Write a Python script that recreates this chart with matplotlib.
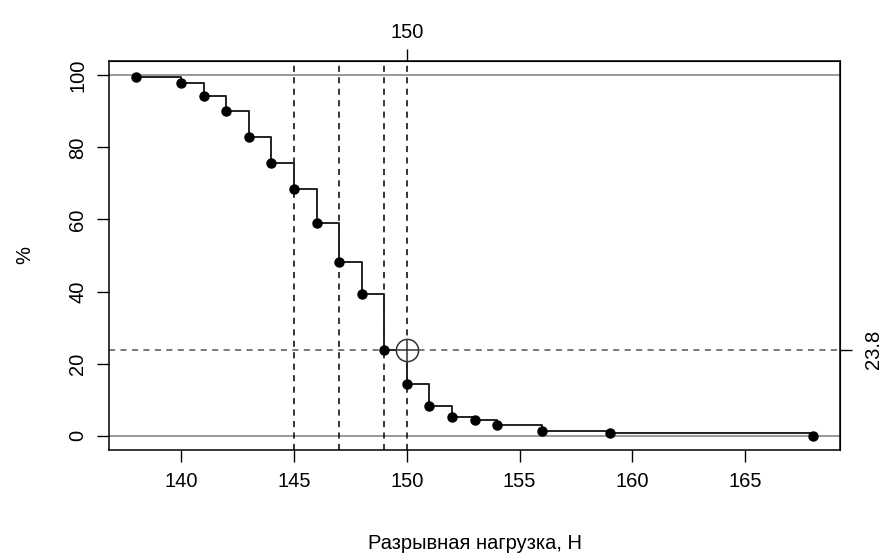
import numpy as np
import matplotlib
matplotlib.use("Agg")
import matplotlib.pyplot as plt

plt.rcParams['font.family'] = ['Liberation Sans', 'DejaVu Sans']

# нагрузка, Н и доля образцов, %
load = [138, 140, 141, 142, 143, 144, 145, 146, 147, 148, 149,
        150, 151, 152, 153, 154, 156, 159, 168]
percent = [99.6, 97.8, 94.2, 90.0, 82.8, 75.6, 68.5, 58.9, 48.2, 39.3, 23.8,
           14.4, 8.3, 5.3, 4.2, 3.0, 1.3, 0.7, 0.0]

vlines = [145, 147, 149, 150]
hlines = [0, 100]
x_mark = 150
y_mark = 23.8
x_ticks = [140, 145, 150, 155, 160, 165]
y_ticks = [0, 20, 40, 60, 80, 100]

fs = 14.5

fig = plt.figure(figsize=(8.92, 5.53), dpi=100)
ax = fig.add_axes([109/892, 103/553, (840-109)/892, (450-61)/553])

for h in hlines:
    ax.axhline(h, color='#888888', lw=1.2, zorder=1)
for v in vlines:
    ax.axvline(v, color='black', lw=1.1, ls=(0, (4, 3.5)), zorder=2)
ax.axhline(y_mark, color='#555555', lw=1.1, ls=(0, (4, 3.5)), zorder=2)

ax.step(load, percent, where='post', color='#222222', lw=1.4, zorder=3)
ax.plot(load, percent, 'o', color='black', ms=6.5, zorder=4)

ax.plot([x_mark], [y_mark], 'o', mfc='white', mec='#333333', mew=1.1, ms=16, zorder=5)
ax.plot([x_mark], [y_mark], '+', color='#333333', mew=1.1, ms=16, zorder=6)

lo, hi = min(load), max(load)
pad = (hi - lo) * 0.04
ax.set_xlim(lo - pad, hi + pad)
ax.set_ylim(-4, 104)

ax.set_xticks(x_ticks)
ax.set_yticks(y_ticks)
ax.set_yticklabels([str(t) for t in y_ticks], rotation=90, va='center')
ax.tick_params(axis='both', direction='out', length=8.5, width=1, labelsize=fs, pad=7)

ax.set_xlabel('Разрывная нагрузка, Н', fontsize=fs, labelpad=31)
ax.set_ylabel('%', fontsize=fs, labelpad=25)

for s in ax.spines.values():
    s.set_linewidth(1.1)

# верхняя и правая оси с отметками
top = ax.secondary_xaxis('top')
top.set_xticks([x_mark])
top.set_xticklabels([f'{x_mark}'])
top.tick_params(direction='out', length=8.5, width=1, labelsize=fs, pad=5)

right = ax.secondary_yaxis('right')
right.set_yticks([y_mark])
right.set_yticklabels([f'{y_mark}'], rotation=90, va='center')
right.tick_params(direction='out', length=8.5, width=1, labelsize=fs, pad=9)

fig.savefig('out.png', dpi=100)
